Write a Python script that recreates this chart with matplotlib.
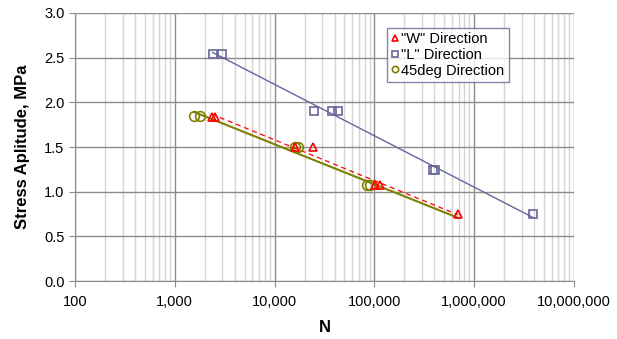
import numpy as np
import matplotlib
matplotlib.use("Agg")
import matplotlib.pyplot as plt
from matplotlib.ticker import FuncFormatter, LogLocator

plt.rcParams['font.family'] = ['Liberation Sans', 'DejaVu Sans']

# "W" direction
w_n = [2340, 2540, 16100, 24200, 102000, 115000, 692000]
w_s = [1.84, 1.84, 1.50, 1.50, 1.07, 1.07, 0.75]
# "L" direction
l_n = [2390, 2970, 25100, 37800, 43100, 389000, 410000, 3940000]
l_s = [2.54, 2.54, 1.90, 1.90, 1.90, 1.24, 1.24, 0.75]
# 45deg direction
d_n = [1560, 1800, 16100, 17000, 85300, 89800]
d_s = [1.85, 1.85, 1.50, 1.50, 1.07, 1.07]

c_w = '#ff0000'
c_l = '#666699'
c_d = '#808000'


def log_trend(n, s, x_end=None):
    # straight-line fit of stress against log10(N), like an Excel log trendline
    n = np.asarray(n, float)
    a, b = np.polyfit(np.log10(n), s, 1)
    xs = np.array([n.min(), x_end if x_end else n.max()])
    return xs, a * np.log10(xs) + b


fig = plt.figure(figsize=(6.17, 3.39), dpi=100)
ax = fig.add_axes([0.1216, 0.171, 0.8084, 0.7907])

ax.set_xscale('log')
ax.set_xlim(100, 1e7)
ax.set_ylim(0, 3.0)

ax.grid(True, which='major', axis='x', color='#8c8c8c', lw=1.0)
ax.grid(True, which='minor', axis='x', color='#d4d4d4', lw=1.0)
ax.grid(True, which='major', axis='y', color='#8c8c8c', lw=1.0)
ax.set_axisbelow(True)

x, y = log_trend(d_n, d_s, x_end=max(w_n))
ax.plot(x, y, color=c_d, lw=1.5, zorder=2)
x, y = log_trend(w_n, w_s)
ax.plot(x, y, color=c_w, lw=0.9, ls=(0, (4, 3)), zorder=2)
x, y = log_trend(l_n, l_s)
ax.plot(x, y, color=c_l, lw=1.0, zorder=2)

ax.plot(d_n, d_s, 'o', ms=7, mfc='none', mec=c_d, mew=1.2, zorder=3,
        label='45deg Direction')
ax.plot(l_n, l_s, 's', ms=6, mfc='none', mec=c_l, mew=1.2, zorder=3,
        label='"L" Direction')
ax.plot(w_n, w_s, '^', ms=6, mfc='none', mec=c_w, mew=1.2, zorder=4,
        label='"W" Direction')

ax.set_yticks(np.arange(0, 3.01, 0.5))
ax.yaxis.set_major_formatter(FuncFormatter(lambda v, p: f'{v:.1f}'))
ax.xaxis.set_major_locator(LogLocator(base=10, numticks=10))
ax.xaxis.set_major_formatter(FuncFormatter(lambda v, p: f'{int(round(v)):,}'))
ax.xaxis.set_minor_locator(LogLocator(base=10, subs=np.arange(2, 10), numticks=20))
ax.tick_params(axis='x', which='minor', length=0)
ax.tick_params(axis='both', which='major', labelsize=10.5, color='#8c8c8c',
               length=4, direction='out')
ax.tick_params(axis='x', pad=6)

for side in ['top', 'right']:
    ax.spines[side].set_visible(False)
for side in ['left', 'bottom']:
    ax.spines[side].set_color('#8c8c8c')

ax.set_xlabel('N', fontsize=12, fontweight='bold', labelpad=8)
ax.set_ylabel('Stress Aplitude, MPa', fontsize=12, fontweight='bold', labelpad=10)

h, l = ax.get_legend_handles_labels()
order = [2, 1, 0]
leg = ax.legend([h[i] for i in order], [l[i] for i in order],
                loc='upper left', bbox_to_anchor=(0.625, 0.945), fontsize=10.5,
                frameon=True, fancybox=False, handlelength=0.5,
                handletextpad=0.2, borderpad=0.3, labelspacing=0.12,
                markerscale=0.65, borderaxespad=0)
leg.get_frame().set_edgecolor(c_l)
leg.get_frame().set_linewidth(1.0)

fig.savefig('out.png', dpi=100)
